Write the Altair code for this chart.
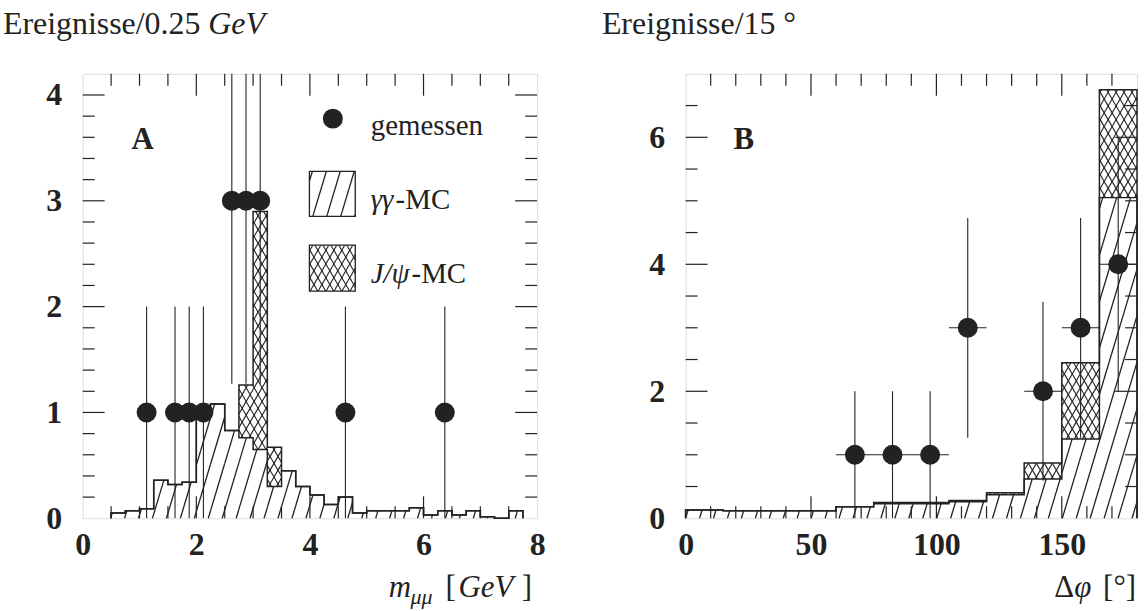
import altair as alt
import pandas as pd
import numpy as np

# ---------------- Panel A : m_mumu, 0.25 GeV bins ----------------
A_BIN_LO = [0.50, 0.75, 1.00, 1.25, 1.50, 1.75, 2.00, 2.25, 2.50, 2.75, 3.00, 3.25, 3.50, 3.75,
            4.00, 4.25, 4.50, 4.75, 5.00, 5.25, 5.50, 5.75, 6.00, 6.25, 6.50, 6.75, 7.00, 7.25, 7.50]
A_GG = [0.05, 0.07, 0.09, 0.36, 0.32, 0.34, 1.00, 1.08, 0.83, 0.76, 0.65, 0.30, 0.45, 0.30,
        0.22, 0.13, 0.20, 0.05, 0.07, 0.07, 0.07, 0.10, 0.03, 0.07, 0.03, 0.07, 0.015, 0.0, 0.07]
A_JPSI = [0, 0, 0, 0, 0, 0, 0, 0, 0, 0.50, 2.25, 0.37, 0, 0,
          0, 0, 0, 0, 0, 0, 0, 0, 0, 0, 0, 0, 0, 0, 0]
A_BINW = 0.25
A_PT_X = [1.125, 1.625, 1.875, 2.125, 2.625, 2.875, 3.125, 4.625, 6.375]
A_PT_Y = [1, 1, 1, 1, 3, 3, 3, 1, 1]
A_PT_ERR = [1.0, 1.0, 1.0, 1.0, 1.73, 1.73, 1.73, 1.0, 1.0]
A_XLAB = [0, 2, 4, 6, 8]
A_YLAB = [0, 1, 2, 3, 4]
A_XMAJ = [2, 4, 6]
A_XMIN = [0.5, 1, 1.5, 2.5, 3, 3.5, 4.5, 5, 5.5, 6.5, 7, 7.5]
A_YMAJ = [1, 2, 3, 4]
A_YMIN = [0.2, 0.4, 0.6, 0.8, 1.2, 1.4, 1.6, 1.8, 2.2, 2.4, 2.6, 2.8, 3.2, 3.4, 3.6, 3.8]

# ---------------- Panel B : delta phi, 15 degree bins ----------------
B_BIN_LO = [0, 15, 30, 45, 60, 75, 90, 105, 120, 135, 150, 165]
B_GG = [0.13, 0.12, 0.12, 0.12, 0.18, 0.23, 0.23, 0.26, 0.37, 0.62, 1.25, 5.05]
B_JPSI = [0, 0, 0, 0, 0, 0.02, 0.02, 0.02, 0.03, 0.25, 1.20, 1.70]
B_BINW = 15
B_PT_X = [67.5, 82.5, 97.5, 112.5, 142.5, 157.5, 172.5]
B_PT_Y = [1, 1, 1, 3, 2, 3, 4]
B_PT_ERR = [1.0, 1.0, 1.0, 1.73, 1.41, 1.73, 2.0]
B_XLAB = [0, 50, 100, 150]
B_YLAB = [0, 2, 4, 6]
B_XMAJ = [50, 100, 150]
B_XMIN = [10, 20, 30, 40, 60, 70, 80, 90, 110, 120, 130, 140, 160, 170]
B_YMAJ = [2, 4, 6]
B_YMIN = [0.5, 1, 1.5, 2.5, 3, 3.5, 4.5, 5, 5.5, 6.5]

SERIF = "Liberation Serif"
INK = "#222222"
ONE = pd.DataFrame({"k": [0]})


def hatch_segments(lo, hi, bot, top, sx, sy, spacing, k):
    rows = []
    for x1, x2, b, t in zip(lo, hi, bot, top):
        if t - b <= 1e-9 or x2 - x1 <= 1e-9:
            continue
        X1, X2, Y1, Y2 = x1 * sx, x2 * sx, b * sy, t * sy
        cs = [X1 - k * Y1, X1 - k * Y2, X2 - k * Y1, X2 - k * Y2]
        j0 = int(np.floor(min(cs) / spacing)) - 1
        j1 = int(np.ceil(max(cs) / spacing)) + 1
        for j in range(j0, j1 + 1):
            c = j * spacing
            ya, yb = (X1 - c) / k, (X2 - c) / k
            ylo = max(Y1, min(ya, yb))
            yhi = min(Y2, max(ya, yb))
            if yhi - ylo > 0.3:
                rows.append({"x": (c + k * ylo) / sx, "y": ylo / sy,
                             "x2": (c + k * yhi) / sx, "y2": yhi / sy})
    return pd.DataFrame(rows, columns=["x", "y", "x2", "y2"])


def step_df(lo, width, h):
    xs = [lo[0]] + list(lo) + [lo[-1] + width, lo[-1] + width]
    ys = [0.0] + list(h) + [h[-1], 0.0]
    return pd.DataFrame({"x": xs, "y": ys, "o": list(range(len(xs)))})


def label(txt, px, py, size, style="normal", weight="normal", align="left"):
    return alt.Chart(ONE).mark_text(
        text=txt, font=SERIF, fontSize=size, fontStyle=style, fontWeight=weight,
        align=align, baseline="alphabetic", color=INK
    ).encode(x=alt.value(px), y=alt.value(py))


def build_panel(lo, binw, gg, jp, ptx, pty, pterr, xerr, W, H, xmax, ymax,
                xlab, ylab, xmaj, xmin, ymaj, ymin, texts, legend):
    sx, sy = W / xmax, H / ymax
    xs = alt.Scale(domain=[0, xmax], nice=False, zero=False)
    ys = alt.Scale(domain=[0, ymax], nice=False, zero=False)
    xax = alt.Axis(values=xlab, ticks=False, domain=False, grid=False, labelFont=SERIF,
                   labelFontSize=32, labelFontWeight="bold", labelColor=INK, labelPadding=11,
                   labelFlush=False, labelOverlap=False, title=None)
    yax = alt.Axis(values=ylab, ticks=False, domain=False, grid=False, labelFont=SERIF,
                   labelFontSize=32, labelFontWeight="bold", labelColor=INK, labelPadding=21,
                   labelOverlap=False, title=None)
    X = alt.X("x:Q", scale=xs, axis=xax)
    Y = alt.Y("y:Q", scale=ys, axis=yax)

    hi = [v + binw for v in lo]
    tot = [a + b for a, b in zip(gg, jp)]
    zeros = [0.0] * len(lo)

    h_gg = hatch_segments(lo, hi, zeros, gg, sx, sy, 14.0, 0.30)
    h_jp = pd.concat([hatch_segments(lo, hi, gg, tot, sx, sy, 8.0, 0.58),
                      hatch_segments(lo, hi, gg, tot, sx, sy, 8.0, -0.58)], ignore_index=True)

    layers = []
    seg = lambda df, w: alt.Chart(df).mark_rule(color=INK, strokeWidth=w).encode(
        x=X, x2="x2:Q", y=Y, y2="y2:Q")
    layers.append(seg(h_gg, 1.3))
    layers.append(seg(h_jp, 1.1))

    for hh in (gg, tot):
        layers.append(alt.Chart(step_df(lo, binw, hh)).mark_line(
            interpolate="step-after", color=INK, strokeWidth=1.5).encode(
            x=X, y=Y, order="o:Q"))

    pts = pd.DataFrame({"x": ptx, "y": pty,
                        "lo": [max(0.0, a - e) for a, e in zip(pty, pterr)],
                        "hi": [a + e for a, e in zip(pty, pterr)]})
    layers.append(alt.Chart(pts).mark_rule(color=INK, strokeWidth=1.1, clip=True).encode(
        x=X, y=alt.Y("lo:Q", scale=ys, axis=yax), y2="hi:Q"))
    if xerr:
        pts2 = pts.assign(xl=pts["x"] - xerr, xh=pts["x"] + xerr)
        layers.append(alt.Chart(pts2).mark_rule(color=INK, strokeWidth=1.1).encode(
            x=alt.X("xl:Q", scale=xs, axis=xax), x2="xh:Q", y=Y))
    layers.append(alt.Chart(pts).mark_circle(size=400, color=INK, opacity=1).encode(x=X, y=Y))

    # inward ticks on all four sides
    for vals, L in ((xmaj, 22), (xmin, 12)):
        d = pd.DataFrame({"x": vals})
        layers.append(alt.Chart(d).mark_rule(color=INK, strokeWidth=1.2).encode(
            x=X, y=alt.value(0), y2=alt.value(L)))
        layers.append(alt.Chart(d).mark_rule(color=INK, strokeWidth=1.2).encode(
            x=X, y=alt.value(H), y2=alt.value(H - L)))
    for vals, L in ((ymaj, 22), (ymin, 12)):
        d = pd.DataFrame({"y": vals})
        layers.append(alt.Chart(d).mark_rule(color=INK, strokeWidth=1.2).encode(
            y=Y, x=alt.value(0), x2=alt.value(L)))
        layers.append(alt.Chart(d).mark_rule(color=INK, strokeWidth=1.2).encode(
            y=Y, x=alt.value(W), x2=alt.value(W - L)))

    if legend:
        # legend laid out in pixels, converted to data units
        dpx, dpy = legend["dot"]
        ld = pd.DataFrame({"x": [dpx / sx], "y": [(H - dpy) / sy]})
        layers.append(alt.Chart(ld).mark_circle(size=400, color=INK, opacity=1).encode(x=X, y=Y))
        for (bx0, bx1, by0, by1), kind in legend["boxes"]:
            lo_b, hi_b = [bx0 / sx], [bx1 / sx]
            b_b, t_b = [(H - by1) / sy], [(H - by0) / sy]
            if kind == "gg":
                hd = hatch_segments(lo_b, hi_b, b_b, t_b, sx, sy, 14.0, 0.30)
            else:
                hd = pd.concat([hatch_segments(lo_b, hi_b, b_b, t_b, sx, sy, 8.0, 0.58),
                                hatch_segments(lo_b, hi_b, b_b, t_b, sx, sy, 8.0, -0.58)],
                               ignore_index=True)
            layers.append(seg(hd, 1.3 if kind == "gg" else 1.1))
            bd = pd.DataFrame({"x": lo_b, "x2": hi_b, "y": b_b, "y2": t_b})
            layers.append(alt.Chart(bd).mark_rect(fillOpacity=0, stroke=INK, strokeWidth=1.3).encode(
                x=X, x2="x2:Q", y=Y, y2="y2:Q"))

    for t in texts:
        layers.append(label(*t))

    return alt.layer(*layers).properties(width=W, height=H)


W_A, H_A = 456, 446
W_B, H_B = 453, 446

texts_a = [
    ("Ereignisse/0.25", -80, -40, 32),
    ("GeV", 126, -40, 32, "italic"),
    ("A", 49, 75, 31, "normal", "bold"),
    ("gemessen", 289, 61, 29),
    ("γγ", 289, 136, 29, "italic"),
    ("-MC", 314, 136, 29),
    ("J/ψ", 289, 210, 29, "italic"),
    ("-MC", 330, 210, 29),
    ("m", 307, 525, 31, "italic"),
    ("μμ", 329, 532, 22, "italic"),
    ("[", 364, 525, 31),
    ("GeV", 377, 525, 31, "italic"),
    ("]", 451, 525, 31, "normal", "normal", "right"),
]
legend_a = {"dot": (251, 45),
            "boxes": [((227.5, 273.5, 98, 143), "gg"), ((227.5, 273.5, 172, 218), "jp")]}

texts_b = [
    ("Ereignisse/15 °", -84, -40, 32),
    ("B", 48, 75, 31, "normal", "bold"),
    ("Δ", 370, 525, 31),
    ("φ", 390, 525, 31, "italic"),
    ("[°]", 452, 525, 31, "normal", "normal", "right"),
]

panel_a = build_panel(A_BIN_LO, A_BINW, A_GG, A_JPSI, A_PT_X, A_PT_Y, A_PT_ERR, None,
                      W_A, H_A, 8.0, 4.2, A_XLAB, A_YLAB, A_XMAJ, A_XMIN, A_YMAJ, A_YMIN,
                      texts_a, legend_a)
panel_b = build_panel(B_BIN_LO, B_BINW, B_GG, B_JPSI, B_PT_X, B_PT_Y, B_PT_ERR, 7.5,
                      W_B, H_B, 180.0, 7.0, B_XLAB, B_YLAB, B_XMAJ, B_XMIN, B_YMAJ, B_YMIN,
                      texts_b, None)

chart = alt.hconcat(panel_a, panel_b, spacing=149, bounds="flush").properties(
    padding={"left": 2, "top": 6, "right": 5, "bottom": 5}
).configure_view(stroke=INK, strokeWidth=1.4).configure(background="white")

chart.save("out.html", embed_options={"renderer": "svg", "actions": False})
